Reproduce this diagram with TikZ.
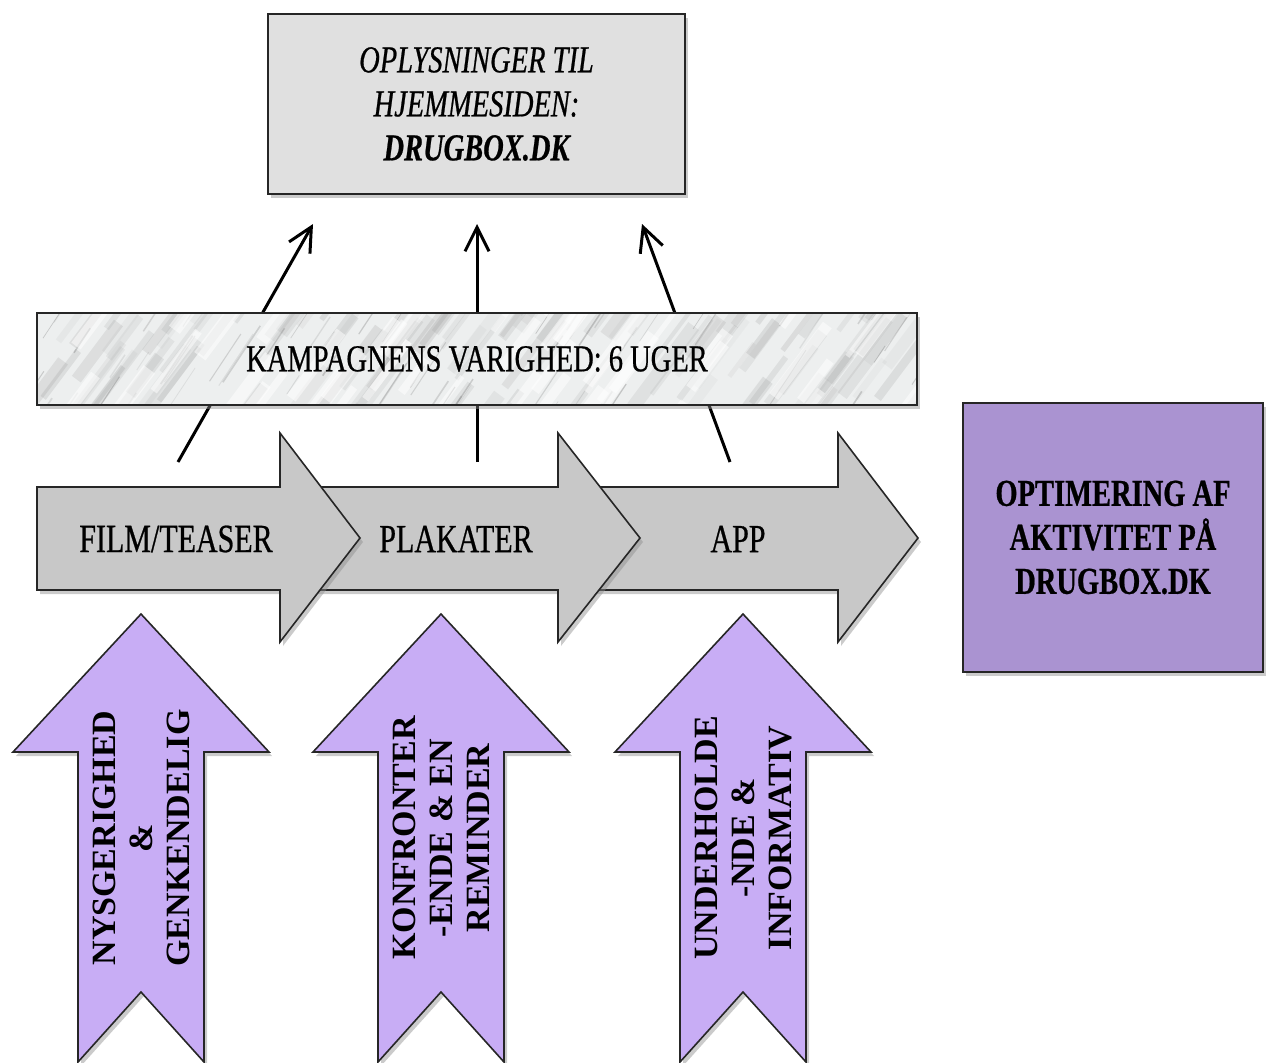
\documentclass[tikz,border=0pt]{standalone}
\usepackage{fontspec}
\usetikzlibrary{arrows.meta}
\newfontfamily\condserif[FakeStretch=0.75, FakeBold=0.6]{Liberation Serif}
\newfontfamily\plainserif{Liberation Serif}
\definecolor{boxgray}{HTML}{E0E0E0}
\definecolor{arrowgray}{HTML}{C8C8C8}
\definecolor{lilac}{HTML}{C8ADF5}
\definecolor{boxpurple}{HTML}{AA93D1}
\definecolor{marblebase}{HTML}{EDEFEF}
\begin{document}
\begin{tikzpicture}[x=1pt,y=-1pt,
  outline/.style={draw=black!85, line width=1.6pt, line join=miter},
  shadowed/.style={preaction={fill=black!45, opacity=.45, transform canvas={shift={(3pt,-4pt)}}}},
  graylabel/.style={font=\condserif\fontsize{40}{44}\selectfont, inner sep=0pt},
  lilaclabel/.style={font=\plainserif\bfseries\fontsize{34}{37}\selectfont, align=center, rotate=90, inner sep=0pt},
  connector/.style={line width=3pt, -{Straight Barb[length=24pt,width=24pt]}}
]
\useasboundingbox (0,0) rectangle (1272,1063);

% top box
\node[outline, shadowed, fill=boxgray, minimum width=417pt, minimum height=180pt, align=center,
      font=\condserif\itshape\fontsize{38}{44}\selectfont] (web) at (476.5,104)
  {OPLYSNINGER TIL\\HJEMMESIDEN:\\\bfseries DRUGBOX.DK};

% connector end points
\coordinate (s1) at (178,462);
\coordinate (e1) at (313,224);
\coordinate (s2) at (477,462);
\coordinate (e2) at (477,224);
\coordinate (s3) at (730,462);
\coordinate (e3) at (642,224);
\draw[connector] (s1) -- (e1);
\draw[connector] (s2) -- (e2);
\draw[connector] (s3) -- (e3);

% marble bar
\fill[black!45, opacity=.45] (40,317) rectangle (920,409);
\begin{scope}
  \clip (37,313) rectangle (917,405);
  \fill[marblebase] (37,313) rectangle (917,405);
  \pgfmathsetseed{7}
  \foreach \i in {1,...,110}{
    \pgfmathsetmacro{\px}{0+960*rnd}
    \pgfmathsetmacro{\py}{313+130*rnd}
    \pgfmathsetmacro{\len}{40+80*rnd}
    \pgfmathsetmacro{\op}{0.04+0.10*rnd}
    \pgfmathsetmacro{\lw}{4+10*rnd}
    \draw[black!60, line width=\lw pt, opacity=\op] (\px,\py) -- ++(0.6*\len,-0.8*\len);
  }
  \foreach \i in {1,...,70}{
    \pgfmathsetmacro{\px}{0+960*rnd}
    \pgfmathsetmacro{\py}{313+130*rnd}
    \pgfmathsetmacro{\len}{20+50*rnd}
    \pgfmathsetmacro{\op}{0.08+0.18*rnd}
    \pgfmathsetmacro{\lw}{0.5+1.2*rnd}
    \draw[black!70, line width=\lw pt, opacity=\op] (\px,\py) -- ++(0.55*\len,-0.83*\len);
  }
  \foreach \i in {1,...,50}{
    \pgfmathsetmacro{\px}{0+960*rnd}
    \pgfmathsetmacro{\py}{313+130*rnd}
    \pgfmathsetmacro{\len}{30+60*rnd}
    \pgfmathsetmacro{\lw}{5+10*rnd}
    \draw[white, line width=\lw pt, opacity=0.5] (\px,\py) -- ++(0.6*\len,-0.8*\len);
  }
\end{scope}
\node[outline, minimum width=880pt, minimum height=92pt, graylabel, font=\condserif\fontsize{38}{44}\selectfont] (camp) at (477,359)
  {KAMPAGNENS VARIGHED: 6 UGER};

% gray process arrows (drawn right to left so the left one lies on top)
\draw[outline, shadowed, fill=arrowgray] (580,487) -- (838,487) -- (838,433) -- (918,538) -- (838,642) -- (838,590) -- (580,590) -- cycle;
\draw[outline, shadowed, fill=arrowgray] (300,487) -- (558,487) -- (558,433) -- (640,538) -- (558,642) -- (558,590) -- (300,590) -- cycle;
\draw[outline, shadowed, fill=arrowgray] (37,487) -- (280,487) -- (280,433) -- (360,538) -- (280,642) -- (280,590) -- (37,590) -- cycle;
\node[graylabel] (film) at (176,539) {FILM/TEASER};
\node[graylabel] (plak) at (456,539) {PLAKATER};
\node[graylabel] (app) at (738,539) {APP};

% purple result box
\node[outline, shadowed, fill=boxpurple, minimum width=300pt, minimum height=269pt, align=center,
      font=\condserif\bfseries\fontsize{38}{44}\selectfont] (opt) at (1113,537.5)
  {OPTIMERING AF\\AKTIVITET PÅ\\DRUGBOX.DK};

% lilac up arrows
\foreach \c/\nm in {141/a, 441/b, 743/c}{
  \draw[outline, shadowed, fill=lilac] (\c,614) -- (\c+128,752) -- (\c+63,752) -- (\c+63,1062) -- (\c,992) -- (\c-63,1062) -- (\c-63,752) -- (\c-128,752) -- cycle;
}
\node[lilaclabel] (nys) at (141,838) {NYSGERIGHED\\\&\\GENKENDELIG};
\node[lilaclabel] (kon) at (441,838) {KONFRONTER\\-ENDE \& EN\\REMINDER};
\node[lilaclabel] (und) at (743,838) {UNDERHOLDE\\-NDE \&\\INFORMATIV};
\end{tikzpicture}
\end{document}
